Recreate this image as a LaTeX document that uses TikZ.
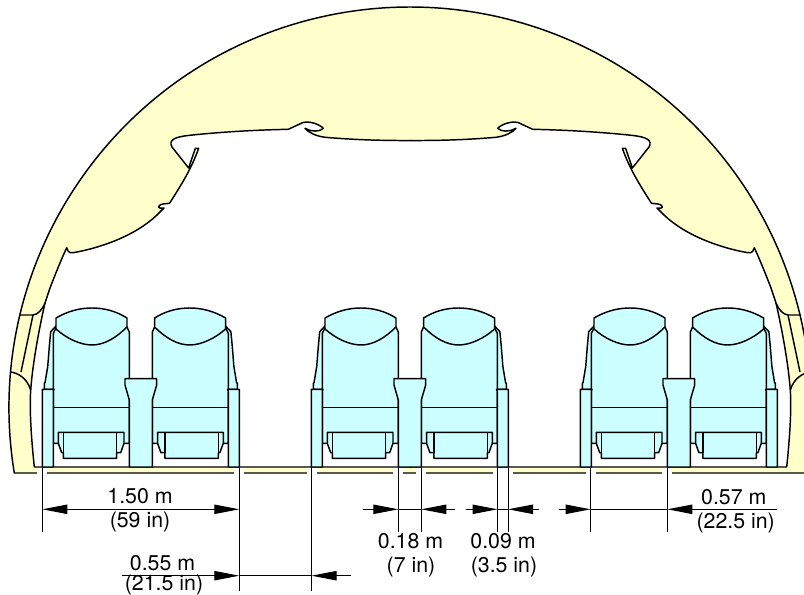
\documentclass[tikz,border=0pt]{standalone}
\usepackage{fontspec}
\setmainfont{TeX Gyre Heros}
\usetikzlibrary{arrows.meta}
\definecolor{cabinyellow}{HTML}{FFFFCC}
\definecolor{seatcyan}{HTML}{CCFFFF}

% one seat, left hand version
\newcommand{\chair}{
    \path[seatpart] (56,326) -- (50.7,331.7) -- (49.3,346.7) -- (47.7,366.7) -- (45,382.7) -- (44.3,383.3) -- (44.3,389.3) -- (56,389.3) -- cycle;
    \path[seatpart] (56,328) -- (53.3,333.3) -- (53.3,443.3) -- (129.3,443.3) -- (129.3,332) -- (127,327) -- cycle;
    \path[seatpart] (56,318) .. controls (68,311) and (80,308) .. (92,308) .. controls (104,308) and (116,311) .. (127,318) -- (127,327) .. controls (116,338) and (104,345) .. (92,345) .. controls (80,345) and (66,338) .. (56,329) -- cycle;
    \draw[outline] (53.3,407.3) -- (129.3,407.3);
    % armrest
    \path[seatpart] (42.3,467) -- (42.3,389.3) -- (54,389.3) -- (53.3,391) -- (53.3,467) -- cycle;
    % cushion
    \path[seatpart] (58.3,432.3) -- (124,432.3) -- (124,443.3) -- (120.7,452.7) -- (116.7,452.7) -- (116.7,458.3) -- (63.3,458.3) -- (63.3,452.7) -- (61.7,452.7) -- (58.3,443.3) -- cycle;
    \draw[outline] (63.3,432.3) -- (63.3,452.7) (116.7,432.3) -- (116.7,452.7);
}

\begin{document}
\begin{tikzpicture}[
    x=0.75pt, y=-0.75pt,
    outline/.style={line width=1.1pt, line join=round},
    wall/.style={draw, outline, fill=cabinyellow},
    hollow/.style={draw, outline, fill=white},
    seatpart/.style={draw, outline, fill=seatcyan},
    extline/.style={line width=0.75pt},
    dimline/.style={line width=0.75pt},
    dimtip/.style={dimline, -{Triangle[length=18.75pt, width=7pt]}},
    dimtext/.style={anchor=base, inner sep=0pt, font=\fontsize{16}{18}\selectfont}
]
\useasboundingbox (0,0) rectangle (804,595);
\clip (0,0) rectangle (804,595);

% Fuselage
\path[wall] (14.3,473) arc[start angle=189.33, end angle=-9.33, radius=300.75pt] -- cycle;

% Cabin, one half and its mirror
\foreach \side/\mx in {1/0, -1/821}{
\begin{scope}[xshift=\mx*0.75pt, xscale=\side]
    \path[hollow] (411.5,467) -- (34.3,467) .. controls (31,435) and (29.5,410) .. (30.7,390)
        .. controls (33,360) and (40,325) .. (45,303) -- (50,288) .. controls (55,275) and (61,260) .. (66.7,247.7)
        .. controls (67.5,250) and (68,253.5) .. (73.3,252.7) .. controls (100,248) and (135,236) .. (157,215)
        -- (164,208) .. controls (158,209.5) and (156,205.5) .. (163,204) -- (169.5,203.3)
        .. controls (180,187) and (192,168) .. (198.6,148.3) -- (195.4,148.3) -- (188.6,168) -- (172,147)
        .. controls (168,140) and (175,137) .. (188,135.5) .. controls (220,132) and (255,130) .. (288.3,129.3)
        -- (303,122.5) .. controls (310,121) and (319,124) .. (323.3,128.3) .. controls (320,132) and (311,132) .. (305,128.3)
        .. controls (309,133) and (316,136) .. (325,137.3) .. controls (345,139) and (365,140) .. (383,140.3) -- (411.5,140.7);
    % sidewall panels
    \draw[outline] (20,315) -- (33,315) .. controls (38,314.5) and (42,310) .. (45,303);
    \draw[outline] (33,315) -- (21,372);
    \draw[outline] (10.6,372) .. controls (18,373) and (27,378) .. (30.7,390);
\end{scope}
}

% Seats
\foreach \dx in {0,269,538}{
\begin{scope}[xshift=\dx*0.75pt]
    \chair
    \begin{scope}[xshift=281.6*0.75pt, xscale=-1]
        \chair
    \end{scope}
    \path[seatpart] (125,378.7) -- (156.7,378.7) -- (156.7,385) -- (152.3,400) -- (152.3,467) -- (129.3,467) -- (129.3,400) -- (125,385) -- cycle;
\end{scope}
}

% Extension lines
\foreach \name/\xx/\yy in {a/42.3/532, b/239.3/591, c/311.5/591, d/398.3/532, e/421.3/532, f/497.5/532, g/508/532, h/590.7/532, i/667.3/532}{
    \fill[white] (\xx-5,468.2) rectangle (\xx+5,475);
    \coordinate (\name0) at (\xx,468);
    \coordinate (\name1) at (\xx,\yy);
    \draw[extline] (\name0) -- (\name1);
}

% Dimension rows and free ends
\coordinate (rowtop) at (0,509.3);
\coordinate (rowlow) at (0,575.7);
\coordinate (gapL) at (122,575.7);
\coordinate (gapR) at (351,575.7);
\coordinate (aisleL) at (363,509.3);
\coordinate (aisleR) at (455,509.3);
\coordinate (armL) at (465.7,509.3);
\coordinate (armR) at (539,509.3);
\coordinate (widthL) at (559,509.3);
\coordinate (widthR) at (777,509.3);

% Arrows
\draw[dimline, {Triangle[length=18.75pt, width=7pt]}-{Triangle[length=18.75pt, width=7pt]}] (a1 |- rowtop) -- (b1 |- rowtop);
\draw[dimtip] (gapL) -- (b1 |- rowlow);
\draw[dimtip] (gapR) -- (c1 |- rowlow);
\draw[dimline] (b1 |- rowlow) -- (c1 |- rowlow);
\draw[dimtip] (aisleL) -- (d1 |- rowtop);
\draw[dimtip] (aisleR) -- (e1 |- rowtop);
\draw[dimline] (d1 |- rowtop) -- (e1 |- rowtop);
\draw[dimtip] (armL) -- (f1 |- rowtop);
\draw[dimtip] (armR) -- (g1 |- rowtop);
\draw[dimline] (f1 |- rowtop) -- (g1 |- rowtop);
\draw[dimtip] (widthL) -- (h1 |- rowtop);
\draw[dimtip] (widthR) -- (i1 |- rowtop);
\draw[dimline] (h1 |- rowtop) -- (i1 |- rowtop);

% Labels
\node[dimtext] (seatM) at (140,503.5) {1.50 m};
\node[dimtext] (seatI) at (140,527.5) {(59 in)};
\node[dimtext] (gapM) at (162.5,570.5) {0.55 m};
\node[dimtext] (gapI) at (164,590.5) {(21.5 in)};
\node[dimtext] (aisleM) at (410.5,548) {0.18 m};
\node[dimtext] (aisleI) at (411,572.5) {(7 in)};
\node[dimtext] (armM) at (503,548) {0.09 m};
\node[dimtext] (armI) at (504,572.5) {(3.5 in)};
\node[dimtext] (widthM) at (733.8,504) {0.57 m};
\node[dimtext] (widthI) at (735.7,528) {(22.5 in)};
\end{tikzpicture}
\end{document}
